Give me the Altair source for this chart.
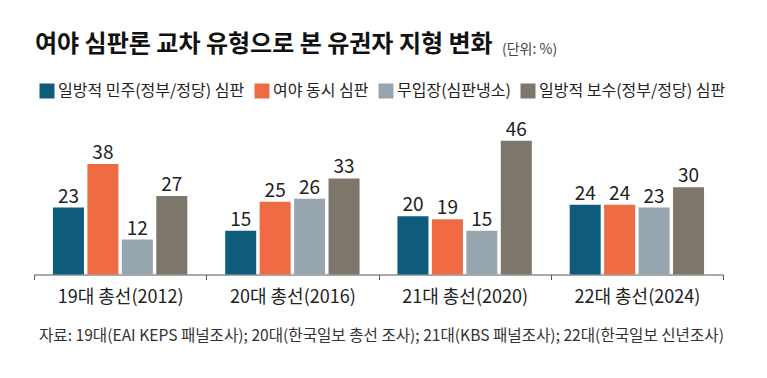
import altair as alt
import pandas as pd

FONT = "Noto Sans CJK KR"

categories = ["19대 총선(2012)", "20대 총선(2016)", "21대 총선(2020)", "22대 총선(2024)"]
series = ["일방적 민주(정부/정당) 심판", "여야 동시 심판", "무입장(심판냉소)", "일방적 보수(정부/정당) 심판"]
colors = ["#0f5b7c", "#ee6b44", "#97a5ae", "#7c766b"]

vals_democratic = [23, 15, 20, 24]
vals_both = [38, 25, 19, 24]
vals_none = [12, 26, 15, 23]
vals_conservative = [27, 33, 46, 30]

title_text = "여야 심판론 교차 유형으로 본 유권자 지형 변화"
unit_text = "(단위: %)"
source_text = "자료: 19대(EAI KEPS 패널조사); 20대(한국일보 총선 조사); 21대(KBS 패널조사); 22대(한국일보 신년조사)"

rows = []
for s, vals in zip(series, [vals_democratic, vals_both, vals_none, vals_conservative]):
    for c, v in zip(categories, vals):
        rows.append({"category": c, "series": s, "value": v})
df = pd.DataFrame(rows)

x_enc = alt.X(
    "category:N",
    sort=categories,
    scale=alt.Scale(paddingInner=0, paddingOuter=0),
    axis=alt.Axis(
        title=None,
        labelAngle=0,
        labelFont=FONT,
        labelFontSize=18,
        labelColor="#222",
        labelPadding=9,
        tickBand="extent",
        tickSize=5,
        tickColor="#555",
        domainColor="#555",
        domainWidth=1,
        grid=False,
    ),
)
xoff_enc = alt.XOffset("series:N", sort=series, scale=alt.Scale(paddingInner=0.1, paddingOuter=0.55))
y_enc = alt.Y("value:Q", scale=alt.Scale(domain=[0, 50]), axis=None)

base = alt.Chart(df)

bars = base.mark_bar().encode(
    x=x_enc,
    xOffset=xoff_enc,
    y=y_enc,
    color=alt.Color(
        "series:N",
        sort=series,
        scale=alt.Scale(domain=series, range=colors),
        legend=alt.Legend(
            title=None,
            orient="none",
            legendX=5,
            legendY=-46,
            direction="horizontal",
            symbolType="square",
            symbolSize=225,
            symbolStrokeWidth=0,
            symbolOpacity=1,
            labelFont=FONT,
            labelFontSize=16,
            labelColor="#222",
            labelOffset=3,
            labelLimit=400,
            columnPadding=9,
            padding=0,
        ),
    ),
)

labels = base.mark_text(
    font=FONT, fontSize=19, color="#222", baseline="alphabetic", dy=-5
).encode(
    x=alt.X("category:N", sort=categories),
    xOffset=alt.XOffset("series:N", sort=series),
    y=alt.Y("value:Q"),
    text=alt.Text("value:Q"),
)

title_df = pd.DataFrame({"t": [title_text]})
unit_df = pd.DataFrame({"t": [unit_text]})
source_df = pd.DataFrame({"t": [source_text]})

title = alt.Chart(title_df).mark_text(
    font=FONT, fontSize=24, fontWeight="bold", color="#111", align="left", baseline="middle"
).encode(x=alt.value(1), y=alt.value(-84), text="t:N")

unit = alt.Chart(unit_df).mark_text(
    font=FONT, fontSize=14, color="#444", align="left", baseline="middle"
).encode(x=alt.value(468), y=alt.value(-79), text="t:N")

source = alt.Chart(source_df).mark_text(
    font=FONT, fontSize=15.6, color="#333", align="left", baseline="middle"
).encode(x=alt.value(5), y=alt.value(207), text="t:N")

chart = (
    alt.layer(bars, labels, title, unit, source)
    .properties(
        width=689,
        height=145.5,
        padding={"left": 26, "top": 121, "right": 36, "bottom": 95},
        autosize=alt.AutoSizeParams(type="none"),
        background="white",
    )
    .configure_view(stroke=None)
)

chart.save("out.html", embed_options={"renderer": "svg", "actions": False})
